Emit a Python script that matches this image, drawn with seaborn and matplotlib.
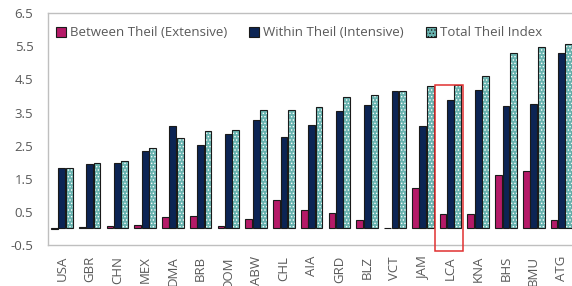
import numpy as np
import pandas as pd
import matplotlib
matplotlib.use('Agg')
import matplotlib.pyplot as plt
from matplotlib.patches import Rectangle
import seaborn as sns

# data
countries = ['USA', 'GBR', 'CHN', 'MEX', 'DMA', 'BRB', 'DOM', 'ABW', 'CHL', 'AIA',
             'GRD', 'BLZ', 'VCT', 'JAM', 'LCA', 'KNA', 'BHS', 'BMU', 'ATG']
between = [-0.03, 0.03, 0.08, 0.11, 0.34, 0.38, 0.08, 0.30, 0.86, 0.56,
           0.48, 0.26, 0.02, 1.21, 0.44, 0.44, 1.61, 1.73, 0.26]
within = [1.84, 1.95, 1.99, 2.34, 3.08, 2.52, 2.86, 3.28, 2.75, 3.13,
          3.54, 3.74, 4.14, 3.09, 3.88, 4.18, 3.69, 3.77, 5.31]
total = [1.84, 1.99, 2.03, 2.44, 2.74, 2.94, 2.97, 3.57, 3.57, 3.68,
         3.98, 4.03, 4.14, 4.29, 4.33, 4.62, 5.31, 5.49, 5.56]
series = ['Between Theil (Extensive)', 'Within Theil (Intensive)', 'Total Theil Index']
yticks = [-0.5, 0.5, 1.5, 2.5, 3.5, 4.5, 5.5, 6.5]
highlight = 'LCA'

colors = ['#cf0068', '#002060', '#5cbfba']
grey = '#595959'

df = pd.DataFrame({'country': countries * 3,
                   'series': np.repeat(series, len(countries)),
                   'value': between + within + total})

sns.set_style('white')
plt.rcParams['font.family'] = ['Open Sans', 'DejaVu Sans']
plt.rcParams['font.size'] = 9.5
plt.rcParams['hatch.linewidth'] = 0.6

fig = plt.figure(figsize=(5.72, 2.86), dpi=100)
ax = fig.add_axes([0.0839, 0.1434, 0.922, 0.8101])

sns.barplot(data=df, x='country', y='value', hue='series', order=countries,
            hue_order=series, palette=colors, width=0.8, gap=0.08,
            edgecolor='#1a1a1a', linewidth=0.8, ax=ax)

# dotted pattern on the total bars: white hatch, then dark outline on top
n = len(countries)
for p in ax.patches[2 * n:3 * n]:
    p.set_hatch('.....')
    p.set_edgecolor('white')
    p.set_linewidth(0)
    ax.add_patch(Rectangle(p.get_xy(), p.get_width(), p.get_height(), fill=False,
                           edgecolor='#1a1a1a', linewidth=0.8))

ax.set_ylim(-0.5, 6.5)
ax.set_xlim(-0.5, n - 0.5)
ax.set_yticks(yticks)
ax.set_yticklabels(['{:.1f}'.format(t) for t in yticks])
ax.set_xlabel('')
ax.set_ylabel('')

for s in ['left', 'top', 'bottom']:
    ax.spines[s].set_color('#bfbfbf')
    ax.spines[s].set_linewidth(1)
ax.spines['right'].set_visible(False)
ax.tick_params(axis='y', direction='in', length=4, color='#bfbfbf', pad=10.5,
               labelcolor=grey, labelsize=9.5)
ax.tick_params(axis='x', length=0, pad=8, labelcolor=grey, labelsize=9.5,
               labelrotation=90)

# red box around the highlighted country
i = countries.index(highlight)
ax.add_patch(Rectangle((i - 0.54, -0.69), 0.99, total[i] + 0.69, fill=False,
                       edgecolor='#e03030', linewidth=1.1, clip_on=False, zorder=5))

leg = ax.legend(loc='center left', bbox_to_anchor=(0.015, 0.915), ncol=3,
                frameon=False, borderpad=0, borderaxespad=0,
                handlelength=0.75, handleheight=0.75,
                handletextpad=0.3, columnspacing=1.7, fontsize=9.5)
for t in leg.get_texts():
    t.set_color(grey)
for h in leg.legend_handles:
    h.set_edgecolor('#1a1a1a')
    h.set_linewidth(0.8)
leg.legend_handles[2].set_hatch('.....')

fig.savefig('out.png', dpi=100)
